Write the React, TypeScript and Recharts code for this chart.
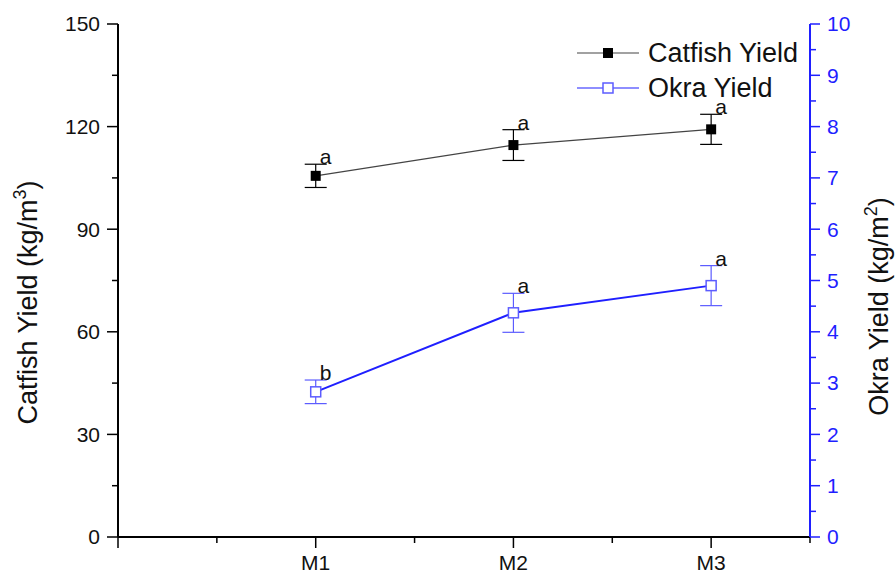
import React from 'react';
import {
  ComposedChart,
  Line,
  XAxis,
  YAxis,
  ErrorBar,
  LabelList,
  Legend,
} from 'recharts';

const FONT = '"Liberation Sans", Arial, Helvetica, sans-serif';
const BLUE = '#1f1fff';
const BLUE_LIGHT = '#5c5cff';

// chart values
const categories = ['M1', 'M2', 'M3'];
const xPositions = [1, 2, 3];
const catfishYield = [105.6, 114.6, 119.2];
const catfishErr = [3.4, 4.5, 4.4];
const catfishLetters = ['a', 'a', 'a'];
const okraYield = [2.83, 4.37, 4.9];
const okraErr = [0.23, 0.38, 0.39];
const okraLetters = ['b', 'a', 'a'];

const xTicks = [0, 0.5, 1, 1.5, 2, 2.5, 3, 3.5];
const leftTicks = [0, 15, 30, 45, 60, 75, 90, 105, 120, 135, 150];
const rightTicks = [0, 0.5, 1, 1.5, 2, 2.5, 3, 3.5, 4, 4.5, 5, 5.5, 6, 6.5, 7, 7.5, 8, 8.5, 9, 9.5, 10];

const data = xPositions.map((x, i) => ({
  x,
  catfish: catfishYield[i],
  catfishErr: catfishErr[i],
  catfishTop: catfishYield[i] + catfishErr[i],
  catfishLetter: catfishLetters[i],
  okra: okraYield[i],
  okraErr: okraErr[i],
  okraTop: okraYield[i] + okraErr[i],
  okraLetter: okraLetters[i],
}));

function LeftTick({ x, y, payload }: any) {
  const major = payload.value % 30 === 0;
  const len = major ? 11 : 6;
  return (
    <g>
      <line x1={x - len} x2={x} y1={y} y2={y} stroke="#000" strokeWidth={1.5} />
      {major && (
        <text x={x - len - 7} y={y} dy="0.35em" textAnchor="end" fontSize={21} fontFamily={FONT} fill="#111">
          {payload.value}
        </text>
      )}
    </g>
  );
}

function RightTick({ x, y, payload }: any) {
  const major = Number.isInteger(payload.value);
  const len = major ? 10 : 6;
  return (
    <g>
      <line x1={x} x2={x + len} y1={y} y2={y} stroke={BLUE} strokeWidth={1.5} />
      {major && (
        <text x={x + len + 7} y={y} dy="0.35em" textAnchor="start" fontSize={21} fontFamily={FONT} fill={BLUE}>
          {payload.value}
        </text>
      )}
    </g>
  );
}

function BottomTick({ x, y, payload }: any) {
  const major = Number.isInteger(payload.value);
  const len = major ? 11 : 6;
  const label = categories[xPositions.indexOf(payload.value)];
  return (
    <g>
      <line x1={x} x2={x} y1={y} y2={y + len} stroke="#000" strokeWidth={1.5} />
      {label && (
        <text x={x} y={y + 33} textAnchor="middle" fontSize={21} fontFamily={FONT} fill="#111">
          {label}
        </text>
      )}
    </g>
  );
}

function TopTick({ x, y, payload }: any) {
  const major = Number.isInteger(payload.value);
  const len = major ? 11 : 6;
  return <line x1={x} x2={x} y1={y} y2={y + len} stroke="#000" strokeWidth={1.5} />;
}

function FilledSquare({ cx, cy, index }: any) {
  return <rect key={`c-${index}`} x={cx - 5} y={cy - 5} width={10} height={10} fill="#000" />;
}

function HollowSquare({ cx, cy, index }: any) {
  return (
    <rect key={`o-${index}`} x={cx - 5} y={cy - 5} width={10} height={10} fill="#fff" stroke={BLUE_LIGHT} strokeWidth={1.5} />
  );
}

function Letter({ x, y, value }: any) {
  return (
    <text x={x + 4} y={y} fontSize={21} fontFamily={FONT} fill="#111">
      {value}
    </text>
  );
}

function AxisTitle({ viewBox, text, sup, side }: any) {
  const cx = side === 'left' ? viewBox.x + 37 : viewBox.x + viewBox.width - 7;
  const cy = viewBox.y + viewBox.height / 2 + (side === 'left' ? 22 : 26);
  return (
    <text
      x={cx}
      y={cy}
      transform={`rotate(-90, ${cx}, ${cy})`}
      textAnchor="middle"
      fontSize={27}
      fontFamily={FONT}
      fill="#111"
    >
      {text}
      <tspan dy={-11} fontSize={18}>{sup}</tspan>
      <tspan dy={11}>)</tspan>
    </text>
  );
}

function LegendBox() {
  const rows = [
    { name: 'Catfish Yield', color: '#444', marker: <rect x={26} y={5} width={10} height={10} fill="#000" /> },
    {
      name: 'Okra Yield',
      color: BLUE,
      marker: <rect x={26} y={5} width={10} height={10} fill="#fff" stroke={BLUE_LIGHT} strokeWidth={1.5} />,
    },
  ];
  return (
    <div style={{ fontFamily: FONT }}>
      {rows.map((r) => (
        <div key={r.name} style={{ display: 'flex', alignItems: 'center', height: 35 }}>
          <svg width={62} height={20}>
            <line x1={0} x2={62} y1={10} y2={10} stroke={r.color} strokeWidth={1.2} />
            {r.marker}
          </svg>
          <span style={{ fontSize: 27, marginLeft: 9, color: '#111', lineHeight: '30px' }}>{r.name}</span>
        </div>
      ))}
    </div>
  );
}

export default function App() {
  return (
    <div style={{ position: 'absolute', left: 0, top: 0, width: 895, height: 574, background: '#fff' }}>
      <ComposedChart width={895} height={574} data={data} margin={{ top: 24, right: 0, bottom: 0, left: 0 }}>
        <XAxis
          xAxisId="bottom"
          dataKey="x"
          type="number"
          domain={[0, 3.5]}
          ticks={xTicks}
          height={37}
          axisLine={{ stroke: '#000', strokeWidth: 2 }}
          tickLine={false}
          tickSize={0}
          tickMargin={0}
          tick={BottomTick}
          interval={0}
        />
        <XAxis
          xAxisId="top"
          orientation="top"
          dataKey="x"
          type="number"
          domain={[0, 3.5]}
          ticks={xTicks}
          height={0}
          axisLine={{ stroke: '#000', strokeWidth: 2 }}
          tickLine={false}
          tickSize={0}
          tickMargin={0}
          tick={TopTick}
          interval={0}
        />
        <YAxis
          yAxisId="left"
          domain={[0, 150]}
          ticks={leftTicks}
          width={118}
          axisLine={{ stroke: '#000', strokeWidth: 2 }}
          tickLine={false}
          tickSize={0}
          tickMargin={0}
          tick={LeftTick}
          interval={0}
          label={(p: any) => <AxisTitle {...p} side="left" text="Catfish Yield (kg/m" sup="3" />}
        />
        <YAxis
          yAxisId="right"
          orientation="right"
          domain={[0, 10]}
          ticks={rightTicks}
          width={85}
          axisLine={{ stroke: BLUE, strokeWidth: 2 }}
          tickLine={false}
          tickSize={0}
          tickMargin={0}
          tick={RightTick}
          interval={0}
          label={(p: any) => <AxisTitle {...p} side="right" text="Okra Yield (kg/m" sup="2" />}
        />
        <Legend
          layout="vertical"
          align="center"
          verticalAlign="middle"
          content={LegendBox}
          wrapperStyle={{ left: 577, top: 35, width: 240, height: 70 }}
        />
        <Line
          xAxisId="bottom"
          yAxisId="left"
          dataKey="catfish"
          name="Catfish Yield"
          stroke="#444"
          strokeWidth={1.2}
          dot={FilledSquare}
          activeDot={false}
          isAnimationActive={false}
        >
          <ErrorBar dataKey="catfishErr" direction="y" width={11} stroke="#000" strokeWidth={1.2} />
        </Line>
        <Line
          xAxisId="bottom"
          yAxisId="right"
          dataKey="okra"
          name="Okra Yield"
          stroke={BLUE}
          strokeWidth={2}
          dot={HollowSquare}
          activeDot={false}
          isAnimationActive={false}
        >
          <ErrorBar dataKey="okraErr" direction="y" width={11} stroke={BLUE_LIGHT} strokeWidth={1.2} />
        </Line>
        <Line
          xAxisId="bottom"
          yAxisId="left"
          dataKey="catfishTop"
          stroke="none"
          dot={false}
          activeDot={false}
          legendType="none"
          isAnimationActive={false}
        >
          <LabelList dataKey="catfishLetter" content={Letter} />
        </Line>
        <Line
          xAxisId="bottom"
          yAxisId="right"
          dataKey="okraTop"
          stroke="none"
          dot={false}
          activeDot={false}
          legendType="none"
          isAnimationActive={false}
        >
          <LabelList dataKey="okraLetter" content={Letter} />
        </Line>
      </ComposedChart>
    </div>
  );
}
